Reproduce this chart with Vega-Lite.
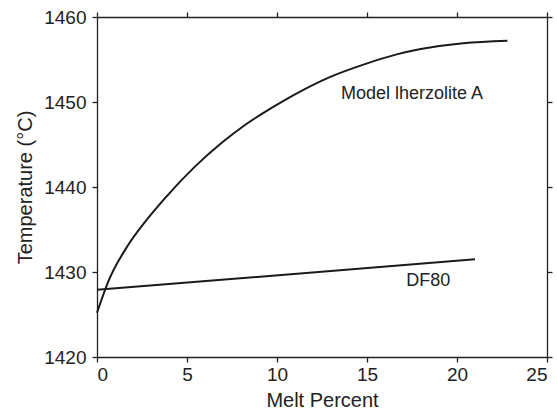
{
  "$schema": "https://vega.github.io/schema/vega-lite/v6.json",
  "width": 450,
  "height": 340,
  "autosize": {"type": "none"},
  "padding": {"left": 97, "top": 17, "right": 10, "bottom": 57},
  "background": "white",
  "config": {
    "font": "Liberation Sans",
    "view": {"stroke": null},
    "axis": {
      "domainColor": "#222",
      "domainWidth": 1.3,
      "tickColor": "#222",
      "tickWidth": 1.3,
      "tickSize": 5,
      "grid": false,
      "labelFont": "Liberation Sans",
      "labelFontSize": 19,
      "labelColor": "#222",
      "titleFont": "Liberation Sans",
      "titleFontSize": 20,
      "titleFontWeight": "normal",
      "titleColor": "#222"
    }
  },
  "datasets": {
    "curves": [
      {"series": "Model lherzolite A", "melt": 0.0, "temp": 1425.2},
      {"series": "Model lherzolite A", "melt": 0.63, "temp": 1428.9},
      {"series": "Model lherzolite A", "melt": 1.74, "temp": 1433.2},
      {"series": "Model lherzolite A", "melt": 2.67, "temp": 1435.9},
      {"series": "Model lherzolite A", "melt": 3.78, "temp": 1438.7},
      {"series": "Model lherzolite A", "melt": 5.44, "temp": 1442.4},
      {"series": "Model lherzolite A", "melt": 6.93, "temp": 1445.2},
      {"series": "Model lherzolite A", "melt": 8.22, "temp": 1447.3},
      {"series": "Model lherzolite A", "melt": 9.7, "temp": 1449.3},
      {"series": "Model lherzolite A", "melt": 11.0, "temp": 1450.9},
      {"series": "Model lherzolite A", "melt": 12.9, "temp": 1452.9},
      {"series": "Model lherzolite A", "melt": 14.8, "temp": 1454.4},
      {"series": "Model lherzolite A", "melt": 16.65, "temp": 1455.6},
      {"series": "Model lherzolite A", "melt": 18.5, "temp": 1456.4},
      {"series": "Model lherzolite A", "melt": 20.35, "temp": 1456.9},
      {"series": "Model lherzolite A", "melt": 22.8, "temp": 1457.2},
      {"series": "DF80", "melt": 0.0, "temp": 1427.9},
      {"series": "DF80", "melt": 21.0, "temp": 1431.5}
    ],
    "labels": [
      {"text": "Model lherzolite A", "melt": 17.5, "temp": 1451.0},
      {"text": "DF80", "melt": 18.4, "temp": 1428.9}
    ]
  },
  "layer": [
    {
      "data": {"name": "curves"},
      "mark": {"type": "line", "color": "#1a1a1a", "strokeWidth": 2, "interpolate": "monotone"},
      "encoding": {
        "x": {
          "field": "melt", "type": "quantitative",
          "scale": {"domain": [0, 25], "nice": false},
          "axis": {"title": "Melt Percent", "values": [0, 5, 10, 15, 20, 25], "labelPadding": 3, "titlePadding": 6}
        },
        "y": {
          "field": "temp", "type": "quantitative",
          "scale": {"domain": [1420, 1460], "nice": false, "zero": false},
          "axis": {"title": "Temperature (°C)", "format": "d", "values": [1420, 1430, 1440, 1450, 1460], "labelPadding": 6, "titlePadding": 8}
        },
        "detail": {"field": "series"}
      }
    },
    {
      "data": {"name": "labels"},
      "mark": {"type": "text", "font": "Liberation Sans", "fontSize": 18, "color": "#222", "align": "center", "baseline": "middle"},
      "encoding": {
        "x": {
          "field": "melt", "type": "quantitative",
          "scale": {"domain": [0, 25], "nice": false},
          "axis": {"orient": "top", "title": null, "labels": false, "values": [0, 5, 10, 15, 20, 25]}
        },
        "y": {
          "field": "temp", "type": "quantitative",
          "scale": {"domain": [1420, 1460], "nice": false, "zero": false},
          "axis": {"orient": "right", "title": null, "labels": false, "values": [1420, 1430, 1440, 1450, 1460]}
        },
        "text": {"field": "text"}
      }
    }
  ],
  "resolve": {"axis": {"x": "independent", "y": "independent"}}
}
